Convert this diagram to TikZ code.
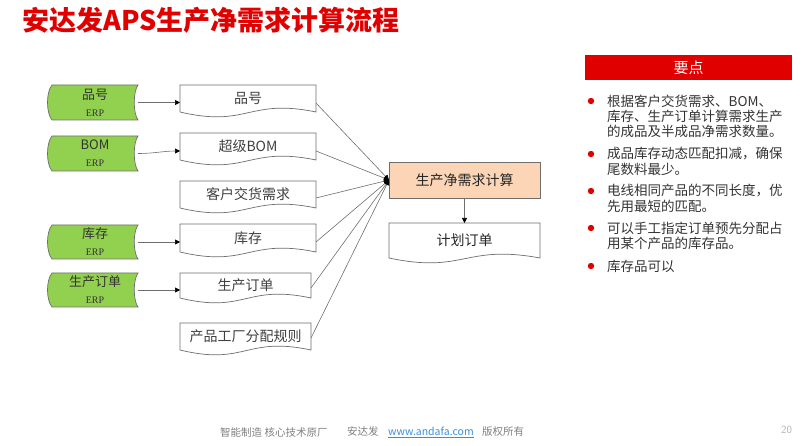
\documentclass[tikz,border=0pt]{standalone}
\usepackage{fontspec}
\setmainfont{Liberation Serif}
\newfontfamily\cjk{Noto Sans CJK SC}
\usetikzlibrary{calc,arrows.meta,backgrounds}
\definecolor{ared}{HTML}{E00000}
\definecolor{agreen}{HTML}{92D050}
\definecolor{apeach}{HTML}{FBD5B5}
\definecolor{aline}{HTML}{6E6E6E}
\definecolor{atext}{HTML}{404040}
\definecolor{afoot}{HTML}{808080}
\definecolor{aurl}{HTML}{3A8EDB}
\tikzset{
  holder/.style={rectangle, inner sep=0pt, outer sep=0pt},
  shapeline/.style={draw=aline, line width=0.7pt},
  doctext/.style={holder, font=\cjk\fontsize{14}{14}\selectfont, text=atext},
  greentext/.style={holder, align=center, text=black!80, font=\cjk\fontsize{13}{17}\selectfont},
  conn/.style={draw=aline, line width=0.6pt, -{Triangle[length=5pt,width=5pt,black]}},
  bultext/.style={anchor=west, inner sep=0pt, text=black!80, font=\cjk\fontsize{13.5}{14}\selectfont},
  foot/.style={anchor=west, inner sep=0pt, text=afoot, font=\cjk\fontsize{10.5}{11}\selectfont},
}
\newcommand\docshape[1]{%
  \begin{pgfonlayer}{background}
  \draw[shapeline, fill=white] (#1.north west) -- (#1.north east) -- (#1.south east)
    .. controls ($(#1.south)+(0,-14)$) and ($(#1.south)+(0,16)$) .. (#1.south west) -- cycle;
  \end{pgfonlayer}}
\newcommand\storeshape[1]{%
  \begin{pgfonlayer}{background}
  \draw[shapeline, fill=agreen] (#1.north west) -- (#1.north east)
    .. controls ($(#1.north east)+(-5,7)$) and ($(#1.south east)+(-5,-7)$) .. (#1.south east)
    -- (#1.south west)
    .. controls ($(#1.south west)+(-6,-7)$) and ($(#1.north west)+(-6,7)$) .. cycle;
  \end{pgfonlayer}}
\begin{document}
\begin{tikzpicture}[x=1pt,y=-1pt]
\useasboundingbox (0,0) rectangle (807,446);

% title
\node[anchor=west, inner sep=0pt, text=ared, font=\cjk\bfseries\fontsize{27}{27}\selectfont] (title) at (22,20) {安达发APS生产净需求计算流程};

% green ERP sources
\node[greentext, minimum width=86, minimum height=35] (g1) at (95,102.5) {品号\\{\rmfamily\fontsize{10}{10}\selectfont ERP}};
\node[greentext, minimum width=86, minimum height=35] (g2) at (95,153.5) {BOM\\{\rmfamily\fontsize{10}{10}\selectfont ERP}};
\node[greentext, minimum width=86, minimum height=34] (g3) at (95,242) {库存\\{\rmfamily\fontsize{10}{10}\selectfont ERP}};
\node[greentext, minimum width=86, minimum height=34] (g4) at (95,290) {生产订单\\{\rmfamily\fontsize{10}{10}\selectfont ERP}};
\storeshape{g1}\storeshape{g2}\storeshape{g3}\storeshape{g4}

% document boxes
\node[doctext, minimum width=136, minimum height=27] (d1) at (248,98.5) {品号};
\node[doctext, minimum width=136, minimum height=27] (d2) at (248,146.5) {超级BOM};
\node[doctext, minimum width=136, minimum height=27] (d3) at (248,194.5) {客户交货需求};
\node[doctext, minimum width=136, minimum height=28] (d4) at (248,238) {库存};
\node[doctext, minimum width=131, minimum height=25] (d5) at (245.5,285.5) {生产订单};
\node[doctext, minimum width=131, minimum height=27] (d6) at (245.5,336.5) {产品工厂分配规则};
\docshape{d1}\docshape{d2}\docshape{d3}\docshape{d4}\docshape{d5}\docshape{d6}

% calculation and plan
\node[holder, draw=aline, line width=0.7pt, fill=apeach, minimum width=151, minimum height=36,
      font=\cjk\fontsize{14}{14}\selectfont, text=black!85] (c) at (464.5,180) {生产净需求计算};
\node[doctext, text=black!85, minimum width=151, minimum height=35] (p) at (464.5,240.5) {计划订单};
\docshape{p}

% connectors ERP -> documents
\draw[conn] (g1.east) -- (g1.east -| d1.west);
\draw[conn] (g2.east) to[out=0,in=180] ($(d2.west)+(0,4.5)$);
\draw[conn] (g3.east) -- (g3.east -| d4.west);
\draw[conn] (g4.east) -- (g4.east -| d5.west);

% documents -> calculation
\draw[conn] ($(d1.east)+(0,4.5)$) -- (c.west);
\draw[conn] ($(d2.east)+(0,4.5)$) -- (c.west);
\draw[conn] ($(d3.east)+(0,3.5)$) -- (c.west);
\draw[conn] ($(d4.east)+(0,4)$) -- (c.west);
\draw[conn] ($(d5.east)+(0,2.5)$) -- (c.west);
\draw[conn] ($(d6.east)+(0,1.5)$) -- (c.west);
\draw[conn] (c.south) -- (p.north);

% key points panel
\node[holder, fill=ared, minimum width=207, minimum height=25, text=white,
      font=\cjk\fontsize{15}{15}\selectfont] (head) at (688.5,67.5) {要点};
\foreach \yy in {101,154,191,228,266} { \fill[ared] (591,\yy) circle (3.2); }
\node[bultext] (b1a) at (607,101) {根据客户交货需求、BOM、};
\node[bultext] (b1b) at (607,116) {库存、生产订单计算需求生产};
\node[bultext] (b1c) at (607,131) {的成品及半成品净需求数量。};
\node[bultext] (b2a) at (607,154) {成品库存动态匹配扣减，确保};
\node[bultext] (b2b) at (607,169) {尾数料最少。};
\node[bultext] (b3a) at (607,191) {电线相同产品的不同长度，优};
\node[bultext] (b3b) at (607,206) {先用最短的匹配。};
\node[bultext] (b4a) at (607,228) {可以手工指定订单预先分配占};
\node[bultext] (b4b) at (607,243) {用某个产品的库存品。};
\node[bultext] (b5a) at (607,266) {库存品可以};

% footer
\node[foot] (f1) at (220,432) {智能制造 核心技术原厂};
\node[foot] (f2) at (347,432) {安达发};
\node[foot, text=aurl] (f3) at (388,432) {\underline{www.andafa.com}};
\node[foot] (f4) at (482,432) {版权所有};
\node[anchor=west, inner sep=0pt, text=black!30, font=\fontsize{11}{11}\selectfont\sffamily] (pg) at (781,430) {20};
\end{tikzpicture}
\end{document}
